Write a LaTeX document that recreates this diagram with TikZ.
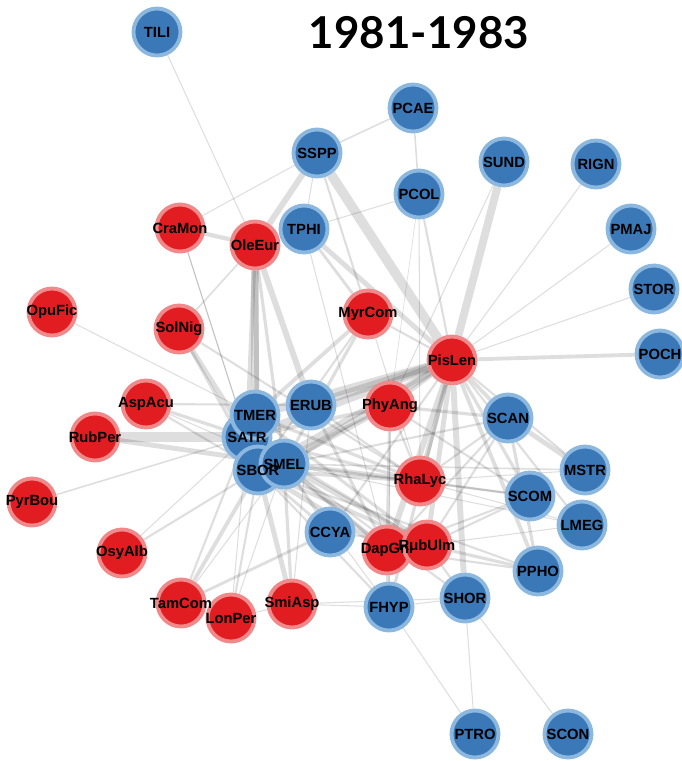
\documentclass[tikz,border=0pt]{standalone}
\usepackage{fontspec}
\setmainfont{Liberation Sans}
\newfontfamily\yearfont{Lato}
\usepackage{tikz}
\definecolor{birdfill}{HTML}{3A78B8}
\definecolor{birdring}{HTML}{8CB8DF}
\definecolor{plantfill}{HTML}{E21D22}
\definecolor{plantring}{HTML}{F0898A}
\pgfdeclarelayer{links}
\pgfdeclarelayer{names}
\pgfsetlayers{links,main,names}
\tikzset{
sp/.style = {circle, minimum size=0.94cm, inner sep=0pt,
             line width=2.2pt},
bird/.style = {sp, fill=birdfill, draw=birdring},
plant/.style = {sp, fill=plantfill, draw=plantring},
spname/.style = {font=\bfseries\fontsize{8.4}{8.4}\selectfont,
                 text=black, inner sep=0pt},
lnk/.style = {draw=black, draw opacity=0.13, line width=#1},
lnk/.default = 0.6pt % thinnest interaction
}

\begin{document}
\begin{tikzpicture}[x=0.02cm, y=-0.02cm]
\useasboundingbox (0,0) rectangle (682,761);

\node[font=\yearfont\bfseries\fontsize{25}{25}\selectfont] (year) at (419,33) {1981-1983};

\node[bird] (TILI) at (157,32) {};
\node[bird] (PCAE) at (413,108) {};
\node[bird] (SSPP) at (317,153) {};
\node[bird] (SUND) at (504,162) {};
\node[bird] (RIGN) at (596,164) {};
\node[bird] (PCOL) at (419,194) {};
\node[bird] (PMAJ) at (631,229) {};
\node[plant] (CraMon) at (180,228) {};
\node[plant] (OleEur) at (255,245) {};
\node[bird] (TPHI) at (304,229) {};
\node[bird] (STOR) at (654,289) {};
\node[plant] (OpuFic) at (52,312) {};
\node[plant] (SolNig) at (179,329) {};
\node[plant] (MyrCom) at (368,314) {};
\node[plant] (PisLen) at (452,360) {};
\node[bird] (POCH) at (660,354) {};
\node[plant] (AspAcu) at (146,404) {};
\node[plant] (RubPer) at (95,437) {};
\node[plant] (PyrBou) at (32,502) {};
\node[bird] (SATR) at (247,437) {};
\node[bird] (TMER) at (255,415) {};
\node[bird] (ERUB) at (311,405) {};
\node[plant] (PhyAng) at (390,406) {};
\node[bird] (SCAN) at (508,418) {};
\node[bird] (SBOR) at (258,470) {};
\node[bird] (SMEL) at (284,464) {};
\node[plant] (RhaLyc) at (420,481) {};
\node[bird] (MSTR) at (585,470) {};
\node[bird] (SCOM) at (530,496) {};
\node[bird] (LMEG) at (582,525) {};
\node[bird] (CCYA) at (330,532) {};
\node[plant] (OsyAlb) at (122,553) {};
\node[plant] (DapGni) at (387,550) {};
\node[plant] (RubUlm) at (427,545) {};
\node[bird] (PPHO) at (538,571) {};
\node[plant] (TamCom) at (181,603) {};
\node[plant] (LonPer) at (231,618) {};
\node[plant] (SmiAsp) at (292,604) {};
\node[bird] (FHYP) at (389,607) {};
\node[bird] (SHOR) at (465,598) {};
\node[bird] (PTRO) at (475,734) {};
\node[bird] (SCON) at (568,734) {};

% labels above every circle
\begin{pgfonlayer}{names}
\foreach \n in {TILI,PCAE,SSPP,SUND,RIGN,PCOL,PMAJ,CraMon,OleEur,TPHI,
  STOR,OpuFic,SolNig,MyrCom,PisLen,POCH,AspAcu,RubPer,PyrBou,SATR,TMER,
  ERUB,PhyAng,SCAN,SBOR,SMEL,RhaLyc,MSTR,SCOM,LMEG,CCYA,OsyAlb,DapGni,
  RubUlm,PPHO,TamCom,LonPer,SmiAsp,FHYP,SHOR,PTRO,SCON}
  \node[spname] (\n-l) at (\n) {\n};
\end{pgfonlayer}

% interactions
\begin{pgfonlayer}{links}
\draw [lnk] (TILI) -- (OleEur);
\draw [lnk=0.9pt] (PCAE) -- (SSPP);
\draw [lnk=0.9pt] (PCAE) -- (PCOL);
\draw [lnk] (SSPP) -- (CraMon);
\draw [lnk=3.4pt] (SSPP) -- (OleEur);
\draw [lnk] (SSPP) -- (TPHI);
\draw [lnk=5.5pt] (SSPP) -- (PisLen);
\draw [lnk=1.2pt] (SSPP) -- (MyrCom);
\draw [lnk] (PCOL) -- (TPHI);
\draw [lnk=1.2pt] (PCOL) -- (PisLen);
\draw [lnk] (PCOL) -- (RhaLyc);
\draw [lnk=0.4pt] (PCOL) -- (PhyAng);
\draw [lnk=4.5pt] (SUND) -- (PisLen);
\draw [lnk] (SUND) -- (PhyAng);
\draw [lnk] (RIGN) -- (PisLen);
\draw [lnk] (PMAJ) -- (PisLen);
\draw [lnk] (STOR) -- (PisLen);
\draw [lnk=2.2pt] (POCH) -- (PisLen);
\draw [lnk=2.4pt] (CraMon) -- (OleEur);
\draw [lnk] (CraMon) -- (SATR);
\draw [lnk] (CraMon) -- (SBOR);
\draw [lnk=0.9pt] (SolNig) -- (OleEur);
\draw [lnk=4.5pt] (OleEur) -- (TMER);
\draw [lnk=2.4pt] (OleEur) -- (SATR);
\draw [lnk=2.8pt] (OleEur) -- (SBOR);
\draw [lnk=3.4pt] (OleEur) -- (ERUB);
\draw [lnk=1.8pt] (OleEur) -- (SMEL);
\draw [lnk=2.8pt] (TPHI) -- (PisLen);
\draw [lnk=1.6pt] (TPHI) -- (MyrCom);
\draw [lnk] (TPHI) -- (DapGni);
\draw [lnk=2.2pt] (MyrCom) -- (TMER);
\draw [lnk=1.8pt] (MyrCom) -- (SMEL);
\draw [lnk=1.2pt] (MyrCom) -- (SBOR);
\draw [lnk=1.2pt] (MyrCom) -- (PisLen);
\draw [lnk] (MyrCom) -- (RhaLyc);
\draw [lnk=2.8pt] (SolNig) -- (SATR);
\draw [lnk=1.8pt] (SolNig) -- (SBOR);
\draw [lnk=1.2pt] (SolNig) -- (RhaLyc);
\draw [lnk] (OpuFic) -- (TMER);
\draw [lnk=1.2pt] (AspAcu) -- (ERUB);
\draw [lnk=1.8pt] (AspAcu) -- (SATR);
\draw [lnk=1.2pt] (AspAcu) -- (SBOR);
\draw [lnk] (AspAcu) -- (SMEL);
\draw [lnk=5.5pt] (RubPer) -- (SATR);
\draw [lnk=2.8pt] (RubPer) -- (SMEL);
\draw [lnk=0.9pt] (PyrBou) -- (SATR);
\draw [lnk=1.2pt] (OsyAlb) -- (SBOR);
\draw [lnk] (OsyAlb) -- (SATR);
\draw [lnk=2.2pt] (TamCom) -- (SBOR);
\draw [lnk=1.2pt] (TamCom) -- (TMER);
\draw [lnk=1.6pt] (TamCom) -- (CCYA);
\draw [lnk] (TamCom) -- (SMEL);
\draw [lnk=1.2pt] (LonPer) -- (SBOR);
\draw [lnk] (LonPer) -- (SATR);
\draw [lnk] (LonPer) -- (SMEL);
\draw [lnk] (LonPer) -- (SmiAsp);
\draw [lnk=2.8pt] (SmiAsp) -- (SBOR);
\draw [lnk=1.8pt] (SmiAsp) -- (SMEL);
\draw [lnk] (SmiAsp) -- (FHYP);
\draw [lnk] (SmiAsp) -- (SHOR);
\draw [lnk] (SmiAsp) -- (ERUB);
\draw [lnk=1.6pt] (CCYA) -- (SBOR);
\draw [lnk=1.2pt] (CCYA) -- (SMEL);
\draw [lnk=1.2pt] (CCYA) -- (RubUlm);
\draw [lnk=1.2pt] (CCYA) -- (PisLen);
\draw [lnk=4.8pt] (PisLen) -- (ERUB);
\draw [lnk=4.8pt] (PisLen) -- (TMER);
\draw [lnk=4.4pt] (PisLen) -- (SATR);
\draw [lnk=3.6pt] (PisLen) -- (SMEL);
\draw [lnk=3.2pt] (PisLen) -- (SBOR);
\draw [lnk=2.2pt] (PisLen) -- (PhyAng);
\draw [lnk=2.2pt] (PisLen) -- (SCAN);
\draw [lnk=1.8pt] (PisLen) -- (SCOM);
\draw [lnk=1.2pt] (PisLen) -- (MSTR);
\draw [lnk=1.2pt] (PisLen) -- (LMEG);
\draw [lnk=2.2pt] (PisLen) -- (PPHO);
\draw [lnk=3.4pt] (PisLen) -- (SHOR);
\draw [lnk=2.8pt] (PisLen) -- (RhaLyc);
\draw [lnk=2.8pt] (PisLen) -- (RubUlm);
\draw [lnk=3.4pt] (PisLen) -- (DapGni);
\draw [lnk=1.8pt] (PisLen) -- (FHYP);
\draw [lnk=2.2pt] (PhyAng) -- (SMEL);
\draw [lnk=2.2pt] (PhyAng) -- (SATR);
\draw [lnk=1.8pt] (PhyAng) -- (SBOR);
\draw [lnk=1.8pt] (PhyAng) -- (SCAN);
\draw [lnk=1.2pt] (PhyAng) -- (RhaLyc);
\draw [lnk=1.8pt] (PhyAng) -- (DapGni);
\draw [lnk] (PhyAng) -- (FHYP);
\draw [lnk=1.2pt] (PhyAng) -- (SCOM);
\draw [lnk=2.8pt] (RhaLyc) -- (SMEL);
\draw [lnk=2.2pt] (RhaLyc) -- (SBOR);
\draw [lnk=1.8pt] (RhaLyc) -- (SATR);
\draw [lnk=1.8pt] (RhaLyc) -- (TMER);
\draw [lnk=1.2pt] (RhaLyc) -- (ERUB);
\draw [lnk] (RhaLyc) -- (MSTR);
\draw [lnk=1.2pt] (RhaLyc) -- (SCOM);
\draw [lnk] (RhaLyc) -- (LMEG);
\draw [lnk=2.8pt] (DapGni) -- (SBOR);
\draw [lnk=2.2pt] (DapGni) -- (SMEL);
\draw [lnk=1.8pt] (DapGni) -- (SATR);
\draw [lnk=1.8pt] (DapGni) -- (ERUB);
\draw [lnk=2.8pt] (RubUlm) -- (SMEL);
\draw [lnk=2.2pt] (RubUlm) -- (SBOR);
\draw [lnk=1.8pt] (RubUlm) -- (TMER);
\draw [lnk=1.8pt] (RubUlm) -- (SATR);
\draw [lnk=2.8pt] (SCAN) -- (MSTR);
\draw [lnk=1.8pt] (SCAN) -- (PPHO);
\draw [lnk=1.2pt] (SCAN) -- (RhaLyc);
\draw [lnk=1.2pt] (SCAN) -- (RubUlm);
\draw [lnk=1.2pt] (SCAN) -- (DapGni);
\draw [lnk=1.2pt] (SCAN) -- (SMEL);
\draw [lnk=0.9pt] (MSTR) -- (SMEL);
\draw [lnk=1.2pt] (SCOM) -- (RubUlm);
\draw [lnk=1.2pt] (SCOM) -- (DapGni);
\draw [lnk=1.2pt] (SCOM) -- (SMEL);
\draw [lnk] (LMEG) -- (RubUlm);
\draw [lnk] (LMEG) -- (SMEL);
\draw [lnk=1.8pt] (PPHO) -- (RubUlm);
\draw [lnk=1.2pt] (PPHO) -- (DapGni);
\draw [lnk=1.2pt] (PPHO) -- (SBOR);
\draw [lnk=1.2pt] (SHOR) -- (RubUlm);
\draw [lnk=1.2pt] (SHOR) -- (SMEL);
\draw [lnk] (SHOR) -- (FHYP);
\draw [lnk] (SHOR) -- (PTRO);
\draw [lnk] (SHOR) -- (SCON);
\draw [lnk] (FHYP) -- (PTRO);
\draw [lnk=2.2pt] (FHYP) -- (DapGni);
\draw [lnk=1.2pt] (FHYP) -- (SBOR);
\draw [lnk] (FHYP) -- (SMEL);
\end{pgfonlayer}
\end{tikzpicture}
\end{document}
